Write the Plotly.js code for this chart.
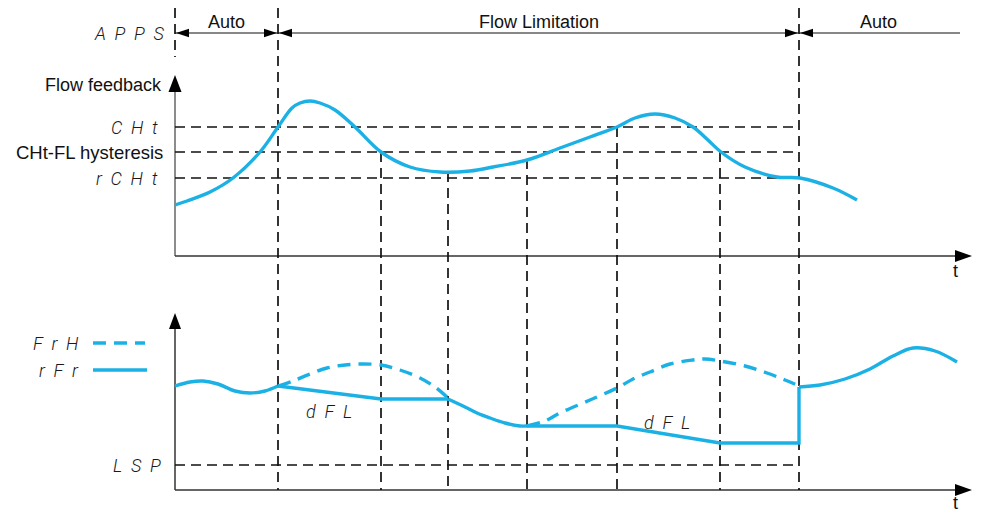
<!DOCTYPE html>
<html><head><meta charset="utf-8">
<script src="https://cdn.plot.ly/plotly-3.0.1.min.js"></script>
<style>html,body{margin:0;padding:0;background:#fff}#chart{width:981px;height:514px}</style>
</head><body><div id="chart"></div>
<script>
// ---- Data (schematic; units = drawing coordinates) ----
// Flow feedback curve (top panel)
const flowT = [175,187,210,233,260,278,292,300,310,320,335,355,381,410,440,470,493,527,560,590,617,635,655,675,693,708,721,745,777,800,833,857];
const flowV = [205,201,192,178,152,127,108,103,101,103,110,127,152,167,172,171,167,160,148,137,127,118,114,118,127,140,152,167,177,178,188,200];

// rFr reference (solid), by segment
const rfrAutoT = [175,190,203,218,235,250,265,278];
const rfrAutoV = [386,382,381,384,391,393,391,386];
const rfrLim1T = [278,381,448];
const rfrLim1V = [386,399,399];
const rfrDropT = [448,465,477,490,505,520,527];
const rfrDropV = [399,407,413,418,423,426,426];
const rfrLim2T = [527,617,720,799,799];
const rfrLim2V = [426,426,443,443,387];
const rfrAuto2T = [799,820,845,870,893,913,935,957];
const rfrAuto2V = [387,385,379,369,356,348,351,362];

// FrH (dashed) unlimited reference
const frh1T = [278,293,310,327,345,363,381,400,420,435,448];
const frh1V = [386,381,374,368,365,364,365,370,378,387,398];
const frh2T = [527,545,560,590,617,635,650,670,693,705,720,745,767,785,799];
const frh2V = [426,421,413,400,388,378,372,364,360,359,361,366,373,380,386];

// Guide levels and events
const levelLabels = ['C  H  t','CHt-FL hysteresis','r  C  H  t'];
const levelY = [127,152,178];
const lspLabel = 'L  S  P';
const lspY = 465;
const eventT = [278,381,448,527,617,720,799];
const eventTop = [8,152,172,159,127,152,8];
const eventBottom = 490;

// Mode bar (APPS)
const modeLabels = ['Auto','Flow Limitation','Auto'];
const modeStart = [175,278,799];
const modeEnd = [278,799,960];
const modeArrowEnd = [true,true,false];

// ---- Styling ----
const BLUE = '#1bb1e5';
const GUIDE = {color:'#111', width:1.7, dash:'10px,6px'};
const X0 = 175, XEND = 799;

const traces = [];
function guide(xs, ys){
  traces.push({x:xs, y:ys, mode:'lines', line:GUIDE, hoverinfo:'skip'});
}
levelY.forEach(y => guide([X0, XEND],[y,y]));
guide([X0, XEND],[lspY,lspY]);
eventT.forEach((t,i) => guide([t,t],[eventTop[i], eventBottom]));
guide([X0,X0],[8,57]);

function curve(xs, ys, shape, dash){
  traces.push({x:xs, y:ys, mode:'lines', hoverinfo:'skip',
    line:{color:BLUE, width:3.4, shape:shape, smoothing:1, dash:dash||'solid'}});
}
curve(frh1T, frh1V, 'spline', '13px,8px');
curve(frh2T, frh2V, 'spline', '13px,8px');
curve(flowT, flowV, 'spline');
curve(rfrAutoT, rfrAutoV, 'spline');
curve(rfrLim1T, rfrLim1V, 'linear');
curve(rfrDropT, rfrDropV, 'spline');
curve(rfrLim2T, rfrLim2V, 'linear');
curve(rfrAuto2T, rfrAuto2V, 'spline');

// ---- Shapes: axes, arrowheads, legend samples ----
const shapes = [];
function line(x0,y0,x1,y1,color,width,dash){
  shapes.push({type:'line',xref:'x',yref:'y',x0,y0,x1,y1,line:{color,width,dash:dash||'solid'},layer:'below'});
}
function tri(x,y,dir,len,half){
  let p;
  if(dir==='up') p=`M${x},${y} L${x-half},${y+len} L${x+half},${y+len} Z`;
  else if(dir==='right') p=`M${x},${y} L${x-len},${y-half} L${x-len},${y+half} Z`;
  else p=`M${x},${y} L${x+len},${y-half} L${x+len},${y+half} Z`;
  shapes.push({type:'path',xref:'x',yref:'y',path:p,fillcolor:'#000',line:{width:0},layer:'above'});
}
line(X0,256,X0,88,'#666',1.5);
line(X0,256,958,256,'#333',1.3);
tri(X0,75,'up',17,6.5);
tri(972,256,'right',17,6);
line(X0,490,X0,326,'#333',1.5);
line(X0,490,958,490,'#333',1.3);
tri(X0,313,'up',16,6);
tri(972,490,'right',17,6);
modeLabels.forEach((m,i)=>{
  line(modeStart[i],33,modeEnd[i],33,'#111',1.1);
  tri(modeStart[i]+1,33,'left',13,4.2);
  if(modeArrowEnd[i]) tri(modeEnd[i]-1,33,'right',13,4.2);
});
line(93,343,145,343,BLUE,3.4,'13px,8px');
line(93,370,147,370,BLUE,3.4);

// ---- Annotations ----
const ann = [];
const SANS = {family:'Liberation Sans, Arial, sans-serif', size:18, color:'#111'};
const SEG = {family:'Roboto, Liberation Sans, sans-serif', size:18, color:'#1a1a1a', style:'italic', weight:300};
function text(t,x,y,xanchor,font){
  ann.push({text:t,x,y,xref:'x',yref:'y',xanchor,yanchor:'middle',showarrow:false,font});
}
text('A  P  P  S',166,33,'right',SEG);
modeLabels.forEach((m,i)=>text(m,(modeStart[i]+modeEnd[i])/2 + (i===2?-1:0),22,'center',SANS));
text('Flow feedback',164,85,'right',SANS);
levelLabels.forEach((l,i)=>text(l, i===1?165:160, levelY[i], 'right', (i===1)?{...SANS,size:18.5}:SEG));
text(lspLabel,163,lspY,'right',SEG);
text('F  r  H',81,343,'right',SEG);
text('r  F  r',81,370,'right',SEG);
text('d  F  L',329,411,'center',SEG);
text('d  F  L',667,422,'center',SEG);
text('t',955,271,'center',SANS);
text('t',955,503,'center',SANS);

const layout = {
  width:981, height:514, margin:{l:0,r:0,t:0,b:0},
  paper_bgcolor:'#fff', plot_bgcolor:'#fff', showlegend:false,
  xaxis:{range:[0,981], visible:false, fixedrange:true},
  yaxis:{range:[514,0], visible:false, fixedrange:true},
  shapes, annotations:ann
};
Plotly.newPlot('chart', traces, layout, {displayModeBar:false, staticPlot:true});
</script></body></html>
